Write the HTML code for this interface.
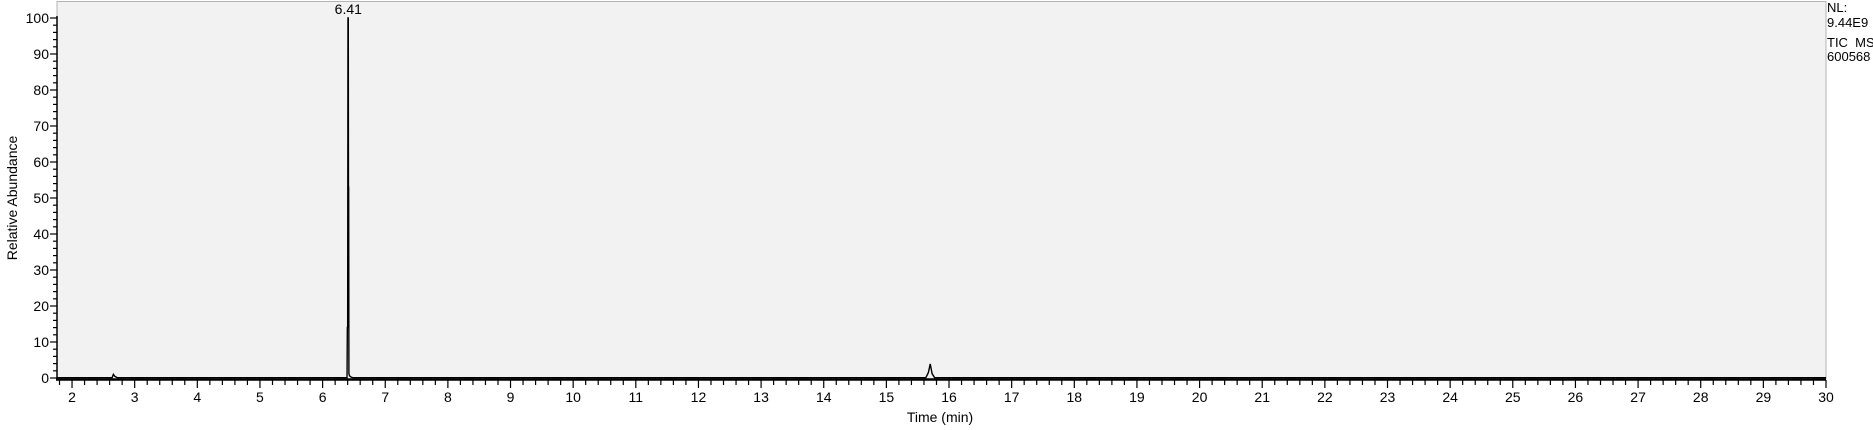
<!DOCTYPE html>
<html><head><meta charset="utf-8"><style>
html,body{margin:0;padding:0;background:#fff;}
svg{display:block;font-family:"Liberation Sans",Arial,sans-serif;}
</style></head><body>
<svg id="chart" width="1873" height="430" viewBox="0 0 1873 430" xmlns="http://www.w3.org/2000/svg">
<rect x="57" y="1.5" width="1769" height="377.5" fill="#f2f2f2" stroke="#b4b4b4" stroke-width="1"/>
<g id="axes"></g>
<g id="trace"></g>
<text transform="translate(17,198) rotate(-90)" text-anchor="middle" font-size="14" fill="#000">Relative Abundance</text>
<text x="940" y="422" text-anchor="middle" font-size="14" fill="#000">Time (min)</text>
<g font-size="13" fill="#000">
<text x="1827" y="12">NL:</text>
<text x="1827" y="27">9.44E9</text>
<text x="1827" y="47">TIC&#160;&#160;MS</text>
<text x="1827" y="61">600568</text>
</g>
</svg>
<script>
const times = [1.76, 2.64, 2.66, 2.68, 2.72, 6.39, 6.395, 6.40, 6.405, 6.41, 6.413, 6.416, 6.42, 6.43, 6.45, 6.48, 15.63, 15.67, 15.70, 15.73, 15.77, 30];
const intensities = [0.1, 0.1, 1.0, 0.5, 0.1, 0.1, 14, 14, 100, 100, 53, 53, 1.2, 0.6, 0.3, 0.1, 0.1, 1.5, 3.9, 1.2, 0.1, 0.1];
const xTickLabels = [2,3,4,5,6,7,8,9,10,11,12,13,14,15,16,17,18,19,20,21,22,23,24,25,26,27,28,29,30];
const yTickLabels = [0,10,20,30,40,50,60,70,80,90,100];
const peakLabels = [{t:6.41, v:100, label:"6.41"}];

const NS="http://www.w3.org/2000/svg";
const x0=57, x1=1826, tMin=1.76, tMax=30;
const yBase=378, yTop=18;
const X=t=>x0+(t-tMin)/(tMax-tMin)*(x1-x0);
const Y=v=>yBase-v/100*(yBase-yTop);
function mk(tag,attrs,parent){const e=document.createElementNS(NS,tag);for(const k in attrs)e.setAttribute(k,attrs[k]);parent.appendChild(e);return e;}
const axes=document.getElementById('axes');
const yl=mk('line',{x1:57,y1:Y(100)-2,x2:57,y2:380,stroke:'#000','stroke-width':1.5},axes);


const xl=mk('line',{x1:56,y1:379.5,x2:x1,y2:379.5,stroke:'#000','stroke-width':2.5},axes);


for(let i=0;;i++){const t=1.8+i*0.2;if(t>tMax+0.001)break;
  const major=Math.abs(t-Math.round(t))<0.01;
  const tk=mk('line',{x1:X(t),y1:380,x2:X(t),y2:major?388:385,stroke:'#000','stroke-width':1.2},axes);
  
  
}
xTickLabels.forEach(v=>{
  const tx=mk('text',{x:X(v),y:402,'text-anchor':'middle','font-size':14,fill:'#000'},axes);tx.textContent=v;
  
  
});
for(let v=0;v<=100;v+=2){
  const major=v%10===0;
  const tk=mk('line',{x1:major?50:53,y1:Y(v),x2:57,y2:Y(v),stroke:'#000','stroke-width':1.2},axes);
  
  
}
yTickLabels.forEach(v=>{
  const tx=mk('text',{x:49,y:Y(v)+5,'text-anchor':'end','font-size':14,fill:'#000'},axes);tx.textContent=v;
  
  
});
const tr=document.getElementById('trace');
const d=times.map((t,i)=>(i?'L':'M')+X(t).toFixed(2)+','+Y(intensities[i]).toFixed(2)).join(' ');
const p=mk('path',{d:d,fill:'none',stroke:'#000','stroke-width':1.4},tr);


peakLabels.forEach(pk=>{
  const tx=mk('text',{x:X(pk.t),y:Y(pk.v)-4,'text-anchor':'middle','font-size':14,fill:'#000'},tr);tx.textContent=pk.label;
  
  
});
</script>
</body></html>
